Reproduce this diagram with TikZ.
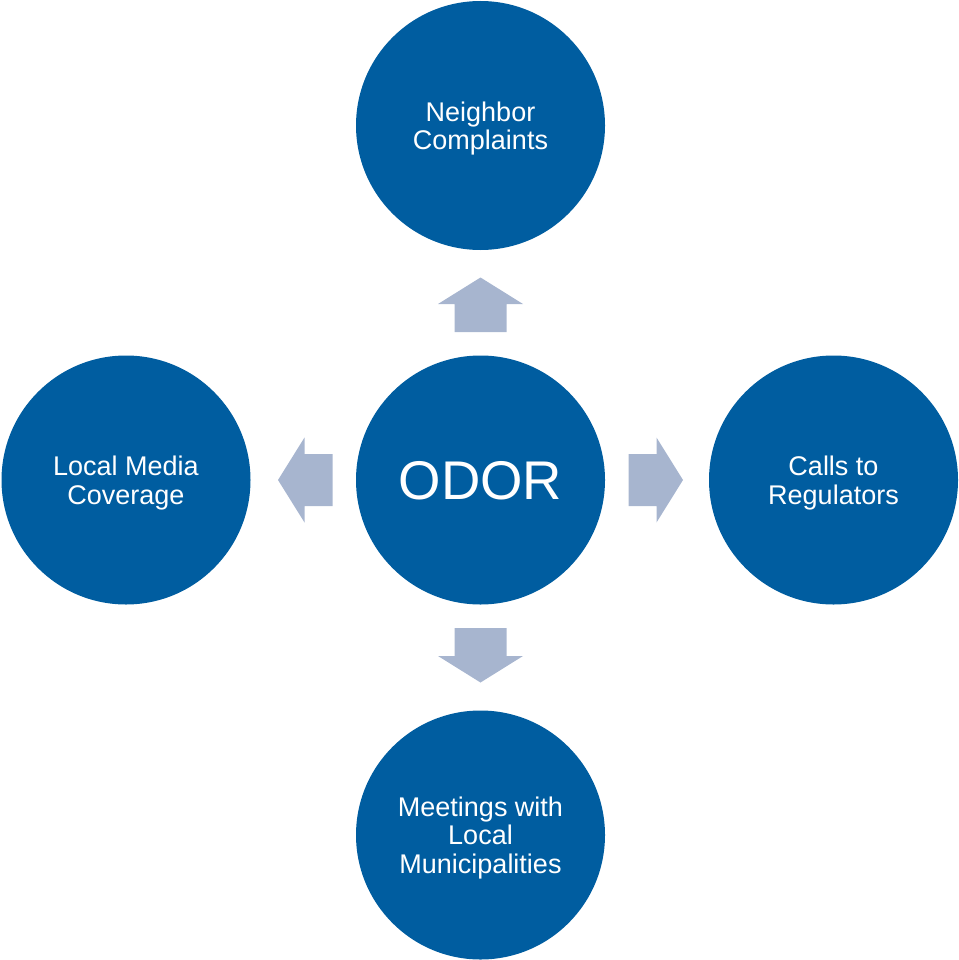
\documentclass[tikz,border=0pt]{standalone}
\usepackage{fontspec}
\setmainfont{Liberation Sans}
\definecolor{circblue}{RGB}{0,93,160}
\definecolor{arrowgray}{RGB}{167,181,207}
\begin{document}
\begin{tikzpicture}[x=1pt,y=1pt,
  bubble/.style={circle,fill=circblue,minimum size=249pt,inner sep=0pt},
  bubbletext/.style={text=white,align=center,inner sep=0pt,yshift=-3pt,
    font=\fontsize{27}{28.5}\selectfont},
  blockarrow/.style={fill=arrowgray}]
\useasboundingbox (0,0) rectangle (958,-960);
\node[bubble] (odor) at (480.5,-480) {};
\node[bubble] (top) at (480.5,-125.5) {};
\node[bubble] (left) at (126,-480) {};
\node[bubble] (right) at (833.5,-480) {};
\node[bubble] (bottom) at (480.5,-835) {};
\node[bubbletext,font=\fontsize{54.5}{60}\selectfont,yshift=2pt] (odort) at (odor.center) {ODOR};
\node[bubbletext] (topt) at (top.center) {Neighbor\\Complaints};
\node[bubbletext] (leftt) at (left.center) {Local Media\\Coverage};
\node[bubbletext] (rightt) at (right.center) {Calls to\\Regulators};
\node[bubbletext] (bottomt) at (bottom.center) {Meetings with\\Local\\Municipalities};
\foreach \ang in {0,90,180,270}{
  \begin{scope}[shift={(odor.center)},rotate=\ang]
    \fill[blockarrow] (148,-26) -- (176,-26) -- (176,-42.5) -- (202.5,0) -- (176,42.5) -- (176,26) -- (148,26) -- cycle;
  \end{scope}
}
\end{tikzpicture}
\end{document}
